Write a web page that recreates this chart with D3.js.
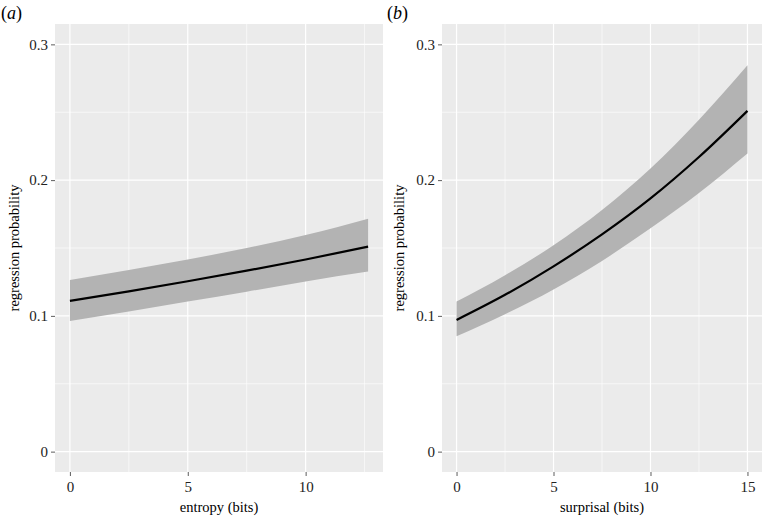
<!DOCTYPE html>
<html>
<head>
<meta charset="utf-8">
<script src="https://cdn.jsdelivr.net/npm/d3@7"></script>
<style>
  body { margin: 0; background: #fff; }
  svg text { font-family: "Liberation Serif", "DejaVu Serif", serif; }
</style>
</head>
<body>
<div class="canva"></div>
<script>
// panel (a): entropy
const entropyX   = [0, 2.5, 5, 7.5, 10, 12.65];
const entropyFit = [0.111, 0.118, 0.1255, 0.1333, 0.1415, 0.151];
const entropyLo  = [0.0963, 0.1033, 0.1105, 0.1178, 0.1253, 0.1326];
const entropyHi  = [0.1265, 0.1338, 0.1415, 0.150, 0.1595, 0.1715];

// panel (b): surprisal
const surprisalX   = [0, 2.5, 5, 7.5, 10, 12.5, 15];
const surprisalFit = [0.097, 0.1155, 0.1365, 0.160, 0.1865, 0.217, 0.251];
const surprisalLo  = [0.085, 0.1012, 0.1195, 0.1405, 0.1645, 0.1905, 0.2196];
const surprisalHi  = [0.1105, 0.130, 0.152, 0.178, 0.2085, 0.2445, 0.2846];

const yTicks = [0, 0.1, 0.2, 0.3];
const yMinor = [0.05, 0.15, 0.25];
const entropyTicks = [0, 5, 10];
const entropyMinor = [2.5, 7.5, 12.5];
const surprisalTicks = [0, 5, 10, 15];
const surprisalMinor = [2.5, 7.5, 12.5];

const serif = '"Liberation Serif", "DejaVu Serif", serif';

const svg = d3.select('.canva').append('svg')
  .attr('width', 773)
  .attr('height', 518)
  .attr('font-family', serif);

const plotTop = 24, plotBottom = 472;

const y = d3.scaleLinear()
  .domain([-0.015, 0.315])
  .range([plotBottom, plotTop]);

function panel(opt) {
  const x = d3.scaleLinear().domain(opt.domain).range([opt.left, opt.right]);
  const g = svg.append('g');

  g.append('rect')
    .attr('x', opt.left).attr('y', plotTop)
    .attr('width', opt.right - opt.left).attr('height', plotBottom - plotTop)
    .attr('fill', '#ebebeb');

  // minor grid
  g.selectAll('.vminor').data(opt.minor).enter().append('line')
    .attr('x1', d => x(d)).attr('x2', d => x(d))
    .attr('y1', plotTop).attr('y2', plotBottom)
    .attr('stroke', '#fff').attr('stroke-width', 0.6);
  g.selectAll('.hminor').data(yMinor).enter().append('line')
    .attr('x1', opt.left).attr('x2', opt.right)
    .attr('y1', d => y(d)).attr('y2', d => y(d))
    .attr('stroke', '#fff').attr('stroke-width', 0.6);
  // major grid
  g.selectAll('.vmajor').data(opt.ticks).enter().append('line')
    .attr('x1', d => x(d)).attr('x2', d => x(d))
    .attr('y1', plotTop).attr('y2', plotBottom)
    .attr('stroke', '#fff').attr('stroke-width', 1.2);
  g.selectAll('.hmajor').data(yTicks).enter().append('line')
    .attr('x1', opt.left).attr('x2', opt.right)
    .attr('y1', d => y(d)).attr('y2', d => y(d))
    .attr('stroke', '#fff').attr('stroke-width', 1.2);

  const rows = opt.xs.map((v, i) => ({x: v, fit: opt.fit[i], lo: opt.lo[i], hi: opt.hi[i]}));

  g.append('path')
    .datum(rows)
    .attr('d', d3.area().curve(d3.curveMonotoneX)
      .x(d => x(d.x)).y0(d => y(d.lo)).y1(d => y(d.hi)))
    .attr('fill', '#b3b3b3');

  g.append('path')
    .datum(rows)
    .attr('d', d3.line().curve(d3.curveMonotoneX)
      .x(d => x(d.x)).y(d => y(d.fit)))
    .attr('fill', 'none')
    .attr('stroke', '#000')
    .attr('stroke-width', 2.2);

  // axes
  const xAxis = d3.axisBottom(x).tickValues(opt.ticks).tickSize(4).tickPadding(5);
  const yAxis = d3.axisLeft(y).tickValues(yTicks).tickSize(4).tickPadding(3)
    .tickFormat(d => d === 0 ? '0' : d3.format('.1f')(d));

  const xg = g.append('g').attr('transform', `translate(0, ${plotBottom})`).call(xAxis);
  const yg = g.append('g').attr('transform', `translate(${opt.left}, 0)`).call(yAxis);
  [xg, yg].forEach(a => {
    a.attr('font-family', serif).attr('font-size', 15);
    a.select('.domain').remove();
    a.selectAll('.tick line').attr('stroke', '#333').attr('stroke-width', 0.8);
    a.selectAll('.tick text').attr('fill', '#222');
  });

  g.append('text')
    .attr('x', (opt.left + opt.right) / 2).attr('y', 512)
    .attr('text-anchor', 'middle')
    .attr('font-size', 14.5)
    .text(opt.title);

  g.append('text')
    .attr('transform', `translate(${opt.ylabX}, ${(plotTop + plotBottom) / 2}) rotate(-90)`)
    .attr('text-anchor', 'middle')
    .attr('font-size', 14.5)
    .text('regression probability');

  const lab = g.append('text')
    .attr('x', opt.labX).attr('y', 19)
    .attr('font-size', 18);
  lab.append('tspan').text('(');
  lab.append('tspan').attr('font-style', 'italic').text(opt.label);
  lab.append('tspan').text(')');
}

panel({
  left: 55, right: 383, domain: [-0.6325, 13.2825],
  ticks: entropyTicks, minor: entropyMinor,
  xs: entropyX, fit: entropyFit, lo: entropyLo, hi: entropyHi,
  title: 'entropy (bits)', ylabX: 19, labX: 1, label: 'a'
});

panel({
  left: 442, right: 762, domain: [-0.75, 15.75],
  ticks: surprisalTicks, minor: surprisalMinor,
  xs: surprisalX, fit: surprisalFit, lo: surprisalLo, hi: surprisalHi,
  title: 'surprisal (bits)', ylabX: 404, labX: 387, label: 'b'
});
</script>
</body>
</html>
